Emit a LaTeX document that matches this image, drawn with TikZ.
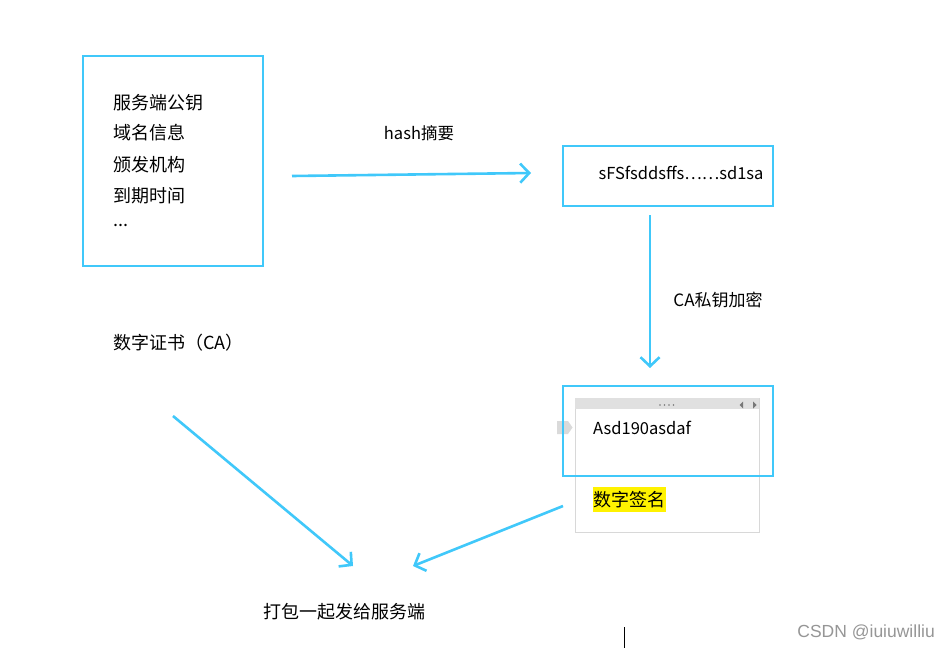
\documentclass[tikz,border=0pt]{standalone}
\usepackage{fontspec}
\setmainfont{Noto Sans CJK SC}
\newfontfamily\wmfont{Liberation Sans}
\usetikzlibrary{arrows.meta}
\definecolor{cyanline}{RGB}{64,200,250}
\definecolor{panelgray}{RGB}{216,216,216}
\definecolor{barfill}{RGB}{224,224,224}
\definecolor{tabfill}{RGB}{218,218,218}
\definecolor{markgray}{RGB}{120,120,120}
\definecolor{wmgray}{RGB}{150,150,150}
\tikzset{
  bluebox/.style={draw=cyanline, line width=2.6pt, inner sep=0pt},
  flow/.style={draw=cyanline, line width=2.6pt, -{Straight Barb[length=9pt,width=19pt]}},
  txt/.style={inner sep=0pt, font=\fontsize{18}{20}\selectfont},
  midtxt/.style={inner sep=0pt, font=\fontsize{16.5}{18}\selectfont},
  smalltxt/.style={inner sep=0pt, font=\fontsize{16.5}{18}\selectfont},
}
\begin{document}
\begin{tikzpicture}[x=1pt,y=-1pt]
\useasboundingbox (0,0) rectangle (950,648);
\fill[white] (0,0) rectangle (950,648);

% boxes
\node[bluebox, minimum width=180pt, minimum height=210pt] (cert) at (173,161) {};
\node[bluebox, minimum width=210pt, minimum height=60pt] (hashbox) at (668,176) {};

% signature panel (under the blue box)
\node[draw=panelgray, line width=0.8pt, minimum width=184pt, minimum height=134pt, inner sep=0pt] (panel) at (667,465) {};
\fill[barfill] (575,398) rectangle (759,409);
\foreach \i in {0,1,2,3} \fill[markgray] (660+\i*4.5,405) circle (0.9pt);
\fill[markgray] (743,401.5) -- (743,408.5) -- (739.5,405) -- cycle;
\fill[markgray] (753,401.5) -- (753,408.5) -- (756.5,405) -- cycle;
\fill[tabfill] (557,421) -- (568,421) -- (572.5,427.5) -- (568,434) -- (557,434) -- cycle;
\node[bluebox, minimum width=210pt, minimum height=90pt] (sigbox) at (668,431) {};

% texts
\node[txt, anchor=west] (t1) at (113,103) {服务端公钥};
\node[txt, anchor=west] (t2) at (113,133) {域名信息};
\node[txt, anchor=west] (t3) at (113,165) {颁发机构};
\node[txt, anchor=west] (t4) at (113,196) {到期时间};
\node[txt, anchor=west] (t5) at (113,225) {...};
\node[midtxt] (hashlbl) at (419,133) {hash摘要};
\node[smalltxt] (hashval) at (681,173) {sFSfsddsffs……sd1sa};
\node[font=\fontsize{17}{19}\selectfont, inner sep=0pt] (enclbl) at (718,300) {CA私钥加密};
\node[txt, anchor=west] (calbl) at (113,343) {数字证书（CA）};
\node[midtxt, anchor=west] (sigval) at (593,428) {Asd190asdaf};
\node[txt, anchor=west, fill=yellow, inner ysep=4pt, inner xsep=0.5pt] (siglbl) at (593,499.5) {数字签名};
\node[txt, anchor=west] (packlbl) at (263,612) {打包一起发给服务端};
\node[inner sep=0pt, font=\wmfont\fontsize{17.5}{19}\selectfont, text=wmgray, anchor=east] (wm) at (935,632) {CSDN @iuiuwilliu};

% cursor
\coordinate (cura) at (624,627);
\coordinate (curb) at (624,648);
\draw[line width=1pt] (cura) -- (curb);

% connectors
\coordinate (h1) at (292,176);
\coordinate (h2) at (531,173);
\coordinate (v1) at (650,215);
\coordinate (v2) at (650,368);
\coordinate (d1) at (173,416);
\coordinate (d2) at (353,566);
\coordinate (e1) at (563,506);
\coordinate (e2) at (413,566);
\draw[flow] (h1) -- (h2);
\draw[flow] (v1) -- (v2);
\draw[flow] (d1) -- (d2);
\draw[flow] (e1) -- (e2);
\end{tikzpicture}
\end{document}
